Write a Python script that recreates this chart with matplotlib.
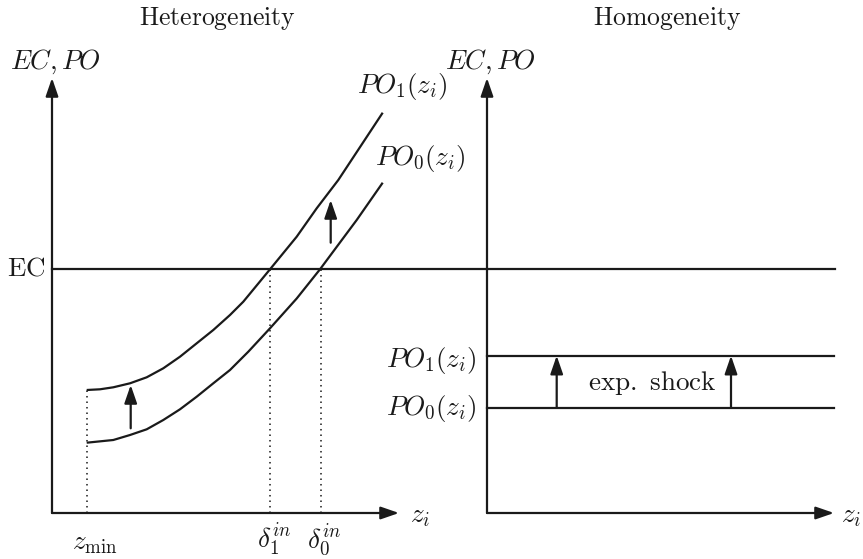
import matplotlib
matplotlib.use("Agg")
import matplotlib.pyplot as plt

plt.rcParams['mathtext.fontset'] = 'cm'

# ---- data (diagram units) ----
po1_z   = [3.47, 4.8, 6.13, 7.8, 9.47, 11.13, 12.8, 14.47, 16.13, 17.8, 19.13,
           21.8, 24.47, 26.47, 28.63, 33.07]
po1_val = [12.3, 12.37, 12.57, 12.97, 13.57, 14.47, 15.63, 16.97, 18.3, 19.8, 21.13,
           24.37, 27.63, 30.47, 33.3, 40.03]
po0_z   = [3.47, 6.13, 7.8, 9.47, 11.13, 12.8, 14.47, 16.13, 17.8, 19.63,
           21.8, 24.47, 26.8, 30.47, 33.07]
po0_val = [7.03, 7.3, 7.8, 8.37, 9.3, 10.37, 11.63, 12.97, 14.3, 16.13,
           18.47, 21.45, 24.37, 29.3, 33.03]
ec_level = 24.4
z_min = 3.47
delta_in = [21.8, 26.85]          # delta_1^in, delta_0^in
hom_po1 = 15.73
hom_po0 = 10.53
shift_arrows_het = [(7.87, 8.47, 12.8), (27.87, 27.03, 31.3)]
shift_arrows_hom_x = [6.97, 24.4]

XMAX, YMAX = 34.7, 43.5
C = '#1a1a1a'
LW = 1.6
FS = 19.5

fig = plt.figure(figsize=(8.63, 5.59), dpi=100)
W, H = 863, 559
axL = fig.add_axes([52 / W, 46 / H, 347 / W, 435 / H])
axR = fig.add_axes([487 / W, 46 / H, 347 / W, 435 / H])
for ax in (axL, axR):
    ax.set_xlim(0, XMAX)
    ax.set_ylim(0, YMAX)
    ax.axis('off')

def arrow(ax, x0, y0, x1, y1, hl=0.55, hw=0.19):
    ax.annotate('', xy=(x1, y1), xytext=(x0, y0), xycoords='data',
                arrowprops=dict(arrowstyle=f'-|>,head_length={hl},head_width={hw}',
                                mutation_scale=20, color=C, lw=LW,
                                shrinkA=0, shrinkB=0),
                annotation_clip=False)

# axes
for ax, zx in ((axL, 35.8), (axR, 35.4)):
    arrow(ax, 0, 0, 0, YMAX)
    arrow(ax, 0, 0, XMAX, 0)
    ax.text(-4.2, 45.1, r'$EC, PO$', fontsize=FS, ha='left', va='center', color=C)
    ax.text(zx, -0.3, r'$z_i$', fontsize=FS, ha='left', va='center', color=C)

# EC line across both panels
axL.plot([0, (835 - 52) / 10], [ec_level, ec_level], color=C, lw=LW, clip_on=False)
axL.text(-0.7, ec_level, r'$\mathrm{EC}$', fontsize=FS, ha='right', va='center', color=C)

# heterogeneity curves
axL.plot(po1_z, po1_val, color=C, lw=LW, clip_on=False, solid_capstyle='butt',
         solid_joinstyle='round')
axL.plot(po0_z, po0_val, color=C, lw=LW, clip_on=False, solid_capstyle='butt',
         solid_joinstyle='round')

# dotted guides
dot = dict(color=C, lw=1.1, linestyle=(0, (1, 2.6)), clip_on=False)
axL.plot([z_min, z_min], [0, po1_val[0]], **dot)
for d in delta_in:
    axL.plot([d, d], [0, ec_level], **dot)

for x, y0, y1 in shift_arrows_het:
    arrow(axL, x, y0, x, y1)

axL.text(30.5, 42.6, r'$PO_1(z_i)$', fontsize=FS, ha='left', va='center', color=C)
axL.text(32.3, 35.5, r'$PO_0(z_i)$', fontsize=FS, ha='left', va='center', color=C)
axL.text(4.25, -3.0, r'$z_{\min}$', fontsize=FS, ha='center', va='center', color=C)
axL.text(22.2, -2.7, r'$\delta_1^{in}$', fontsize=FS, ha='center', va='center', color=C)
axL.text(27.2, -2.7, r'$\delta_0^{in}$', fontsize=FS, ha='center', va='center', color=C)
axL.text(16.6, 49.5, r'$\mathrm{Heterogeneity}$', fontsize=18.5, ha='center', va='center', color=C)

# homogeneity
axR.plot([0, XMAX], [hom_po1, hom_po1], color=C, lw=LW, clip_on=False)
axR.plot([0, XMAX], [hom_po0, hom_po0], color=C, lw=LW, clip_on=False)
for x in shift_arrows_hom_x:
    arrow(axR, x, hom_po0, x, hom_po1)
axR.text(-1.1, hom_po1 - 0.5, r'$PO_1(z_i)$', fontsize=FS, ha='right', va='center', color=C)
axR.text(-1.1, hom_po0 - 0.1, r'$PO_0(z_i)$', fontsize=FS, ha='right', va='center', color=C)
axR.text(16.5, 13.0, r'$\mathrm{exp.\ shock}$', fontsize=FS, ha='center', va='center', color=C)
axR.text(18.0, 49.5, r'$\mathrm{Homogeneity}$', fontsize=18.5, ha='center', va='center', color=C)

fig.savefig('out.png', dpi=100)
